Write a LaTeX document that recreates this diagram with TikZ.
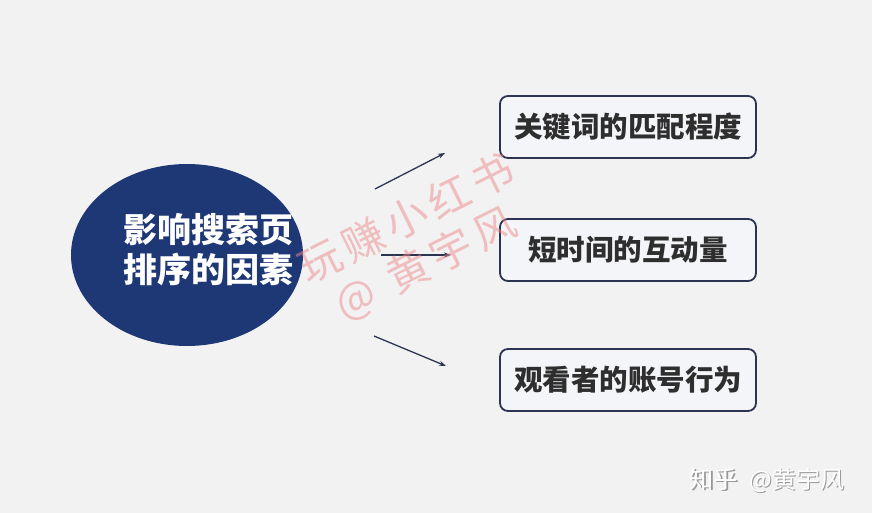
\documentclass[tikz,border=0pt]{standalone}
\usepackage{fontspec}
\newfontfamily\cjk{Noto Sans CJK SC}
\usetikzlibrary{arrows.meta,shapes.geometric}
\definecolor{bg}{HTML}{F2F2F3}
\definecolor{navy}{HTML}{1E3775}
\definecolor{boxline}{HTML}{2C3452}
\definecolor{boxfill}{HTML}{F4F5F8}
\definecolor{txt}{HTML}{2E2E2E}
\definecolor{wm}{HTML}{EE8A8A}
\newcommand{\gp}{\hspace{6pt}}
\tikzset{
  factor/.style={draw=boxline, line width=1.8pt, fill=boxfill, rounded corners=8pt,
    minimum width=256pt, minimum height=62pt, inner sep=0pt,
    font=\cjk\bfseries\fontsize{28.5}{32}\selectfont, text=txt},
  link/.style={draw=boxline, line width=1.3pt, -{Stealth[length=7pt,width=5pt]}},
  wmark/.style={font=\cjk\fontsize{42}{46}\selectfont, text=wm, text opacity=0.5, rotate=26.5, inner sep=0pt}
}
\begin{document}
\begin{tikzpicture}[x=1pt,y=-1pt]
\useasboundingbox (0,0) rectangle (872,513);
\fill[bg] (0,0) rectangle (872,513);
\node[ellipse, fill=navy, minimum width=232pt, minimum height=182pt, inner sep=0pt] (core) at (187,255) {};
\node[font=\cjk\bfseries\fontsize{34}{40}\selectfont, text=white, align=center, inner sep=0pt] (coretext) at (208,250) {影响搜索页\\排序的因素};
\node[factor] (f1) at (628,127) {关键词的匹配程度};
\node[factor] (f2) at (628,250) {短时间的互动量};
\node[factor] (f3) at (628,380) {观看者的账号行为};
\coordinate (s1) at (375,189); \coordinate (e1) at (445,153);
\coordinate (s2) at (381,255); \coordinate (e2) at (451,255);
\coordinate (s3) at (374,336); \coordinate (e3) at (446,366);
\draw[link] (s1) -- (e1);
\draw[link] (s2) -- (e2);
\draw[link] (s3) -- (e3);
\node[wmark] (wm1) at (406,218) {玩\gp 赚\gp 小\gp 红\gp 书};
\node[wmark] (wm2) at (426,264) {@\hspace{18pt}黄\gp 宇\gp 风};
\node[font=\cjk\fontsize{24}{28}\selectfont, text=black!40, inner sep=0pt] (zh2) at (768.5,481.5) {知乎\hspace{6pt} @黄宇风};
\node[font=\cjk\fontsize{24}{28}\selectfont, text=white, inner sep=0pt] (zh) at (767,480) {知乎\hspace{6pt} @黄宇风};
\end{tikzpicture}
\end{document}
